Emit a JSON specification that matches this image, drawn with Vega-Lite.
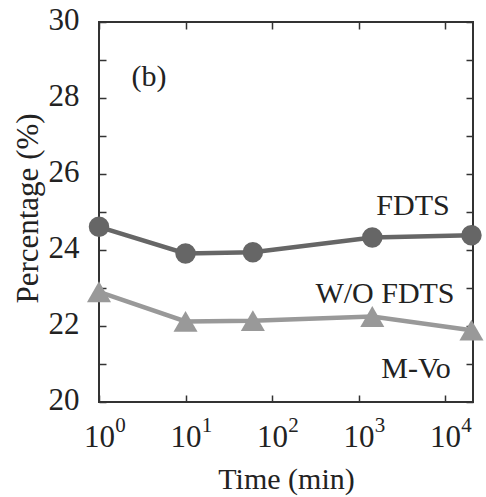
{
  "$schema": "https://vega.github.io/schema/vega-lite/v6.json",
  "width": 374,
  "height": 380,
  "autosize": {"type": "none"},
  "padding": {"left": 99, "top": 22, "right": 13, "bottom": 95},
  "background": "white",
  "config": {
    "font": "Liberation Serif, Times New Roman, Times, serif",
    "view": {"stroke": "#333", "strokeWidth": 2},
    "axis": {
      "grid": false,
      "domain": false,
      "ticks": true,
      "tickSize": -7,
      "tickWidth": 1.5,
      "tickColor": "#333",
      "labelFont": "Liberation Serif, Times New Roman, Times, serif",
      "labelFontSize": 31,
      "labelColor": "#222",
      "titleFont": "Liberation Serif, Times New Roman, Times, serif",
      "titleFontSize": 31,
      "titleFontWeight": "normal",
      "titleColor": "#222",
      "labelFlush": false,
      "labelOverlap": false
    }
  },
  "datasets": {
    "series": [
      {"time": 1, "pct": 24.61, "sample": "FDTS"},
      {"time": 10, "pct": 23.91, "sample": "FDTS"},
      {"time": 60, "pct": 23.94, "sample": "FDTS"},
      {"time": 1440, "pct": 24.33, "sample": "FDTS"},
      {"time": 20160, "pct": 24.39, "sample": "FDTS"},
      {"time": 1, "pct": 22.9, "sample": "W/O FDTS"},
      {"time": 10, "pct": 22.12, "sample": "W/O FDTS"},
      {"time": 60, "pct": 22.14, "sample": "W/O FDTS"},
      {"time": 1440, "pct": 22.25, "sample": "W/O FDTS"},
      {"time": 20160, "pct": 21.89, "sample": "W/O FDTS"}
    ],
    "notes": [
      {"time": 4255, "pct": 24.92, "text": "FDTS"},
      {"time": 2018, "pct": 22.61, "text": "W/O FDTS"},
      {"time": 4605, "pct": 20.63, "text": "M-Vo"},
      {"time": 3.78, "pct": 28.32, "text": "(b)"}
    ]
  },
  "layer": [
    {
      "data": {"name": "series"},
      "mark": {"type": "line", "strokeWidth": 4.5, "clip": false},
      "encoding": {
        "x": {
          "field": "time", "type": "quantitative",
          "scale": {"type": "log", "domain": [1, 21000], "nice": false},
          "axis": {
            "orient": "bottom",
            "values": [1, 10, 100, 1000, 10000],
            "labelExpr": "'10'",
            "labelPadding": 51,
            "labelBaseline": "alphabetic",
            "title": "Time (min)",
            "titleFontSize": 30,
            "titleX": 187,
            "titleY": 86,
            "titleAlign": "center",
            "titleBaseline": "alphabetic"
          }
        },
        "y": {
          "field": "pct", "type": "quantitative",
          "scale": {"domain": [20, 30], "nice": false, "zero": false},
          "axis": {
            "orient": "left",
            "values": [20, 21, 22, 23, 24, 25, 26, 27, 28, 29, 30],
            "labelExpr": "datum.value % 2 == 0 ? datum.label : ''",
            "labelPadding": 27,
            "labelAlign": "right",
            "labelBaseline": "middle",
            "labelOffset": -2,
            "title": "Percentage (%)",
            "titleAngle": -90,
            "titleX": -71,
            "titleY": 186,
            "titleAlign": "center",
            "titleBaseline": "middle"
          }
        },
        "color": {
          "field": "sample", "type": "nominal",
          "scale": {"domain": ["FDTS", "W/O FDTS"], "range": ["#666666", "#999999"]},
          "legend": null
        }
      }
    },
    {
      "data": {"name": "series"},
      "mark": {"type": "point", "filled": true, "opacity": 1, "clip": false},
      "encoding": {
        "x": {"field": "time", "type": "quantitative", "axis": null},
        "y": {"field": "pct", "type": "quantitative", "axis": null},
        "color": {"field": "sample", "type": "nominal", "legend": null},
        "shape": {
          "field": "sample", "type": "nominal",
          "scale": {"domain": ["FDTS", "W/O FDTS"], "range": ["circle", "triangle-up"]},
          "legend": null
        },
        "size": {
          "field": "sample", "type": "nominal",
          "scale": {"domain": ["FDTS", "W/O FDTS"], "range": [420, 580]},
          "legend": null
        }
      }
    },
    {
      "data": {"name": "notes"},
      "mark": {"type": "text", "font": "Liberation Serif, Times New Roman, Times, serif", "fontSize": 30, "color": "#222", "align": "center", "baseline": "alphabetic"},
      "encoding": {
        "x": {"field": "time", "type": "quantitative", "axis": null},
        "y": {"field": "pct", "type": "quantitative", "axis": null},
        "text": {"field": "text"}
      }
    },
    {
      "data": {"name": "series"},
      "mark": {"type": "point", "opacity": 0},
      "encoding": {
        "x": {
          "field": "time", "type": "quantitative",
          "axis": {"orient": "top", "values": [1, 10, 100, 1000, 10000], "labels": false, "title": null}
        },
        "y": {
          "field": "pct", "type": "quantitative",
          "axis": {"orient": "right", "values": [20, 21, 22, 23, 24, 25, 26, 27, 28, 29, 30], "labels": false, "title": null}
        }
      }
    },
    {
      "data": {"name": "series"},
      "mark": {"type": "point", "opacity": 0},
      "encoding": {
        "x": {
          "field": "time", "type": "quantitative",
          "axis": {
            "orient": "bottom",
            "values": [1, 10, 100, 1000, 10000],
            "ticks": false,
            "labelExpr": "'' + round(log(datum.value)/LN10)",
            "labelFontSize": 21,
            "labelPadding": 29,
            "labelBaseline": "alphabetic",
            "labelAlign": "center",
            "labelOffset": 21,
            "title": null
          }
        },
        "y": {"field": "pct", "type": "quantitative", "axis": null}
      }
    }
  ],
  "resolve": {"axis": {"x": "independent", "y": "independent"}}
}
